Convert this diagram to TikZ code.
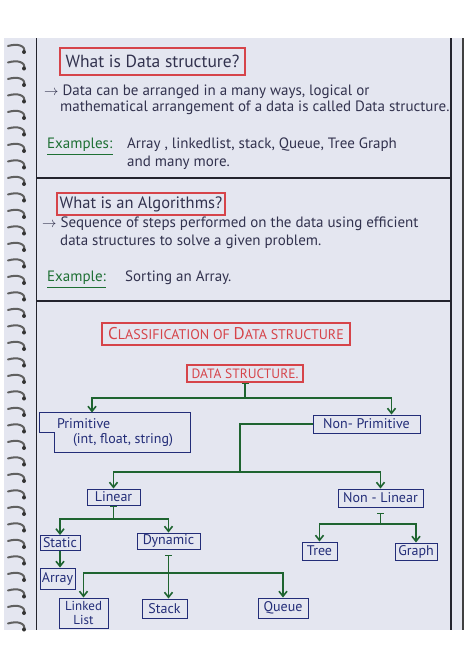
\documentclass[tikz,border=0pt]{standalone}
\usepackage{fontspec}
\setmainfont{PT Sans}
\usetikzlibrary{arrows.meta}
\definecolor{paper}{RGB}{228,230,240}
\definecolor{ink}{RGB}{50,50,78}
\definecolor{qred}{RGB}{214,68,74}
\definecolor{nblue}{RGB}{35,45,120}
\definecolor{lgreen}{RGB}{30,100,48}
\definecolor{egreen}{RGB}{30,112,52}
\definecolor{rule}{RGB}{35,35,45}
\begin{document}
\begin{tikzpicture}[x=1pt,y=-1pt,
  tx/.style={anchor=west,inner sep=0pt,text=ink,font=\fontsize{15}{17}\selectfont},
  ex/.style={tx,text=egreen},
  qb/.style={draw=qred,line width=1.1pt,text=ink,inner sep=0pt,font=\fontsize{17.5}{19}\selectfont},
  hd/.style={draw=qred,line width=1.1pt,text=qred,inner sep=0pt,font=\fontsize{14}{15}\selectfont},
  nd/.style={draw=nblue,line width=1pt,text=nblue,inner sep=0pt,align=center,font=\fontsize{14}{15}\selectfont},
  ln/.style={draw=lgreen,line width=1.6pt},
  ar/.style={ln,-{Straight Barb[length=5pt,width=8pt]}},
  tee/.style={ln,{Bar[width=7pt]}-},
  tar/.style={ln,{Bar[width=7pt]}-{Straight Barb[length=5pt,width=8pt]}}]
  \useasboundingbox (0,0) rectangle (474,670);
  \fill[white] (0,0) rectangle (474,670);
  \fill[paper] (4,38) rectangle (463,630);
  \draw[rule,line width=0.8pt] (36,38) -- (36,630);
  \draw[rule,line width=2pt] (451,38) -- (451,630);
  \draw[black!75,line width=1.2pt] (463,38) -- (463,630);
  \draw[rule,line width=1.6pt] (36,178) -- (451,178);
  \draw[rule,line width=1.6pt] (36,301) -- (451,301);
  \foreach \yy in {46,62.5,...,626}{
    \draw[gray!75!black,line width=2pt,line cap=round] (8,\yy) .. controls (18,\yy-3) and (26,\yy) .. (24,\yy+6);
    \fill[black!80] (24,\yy+6) circle (2pt);
  }

  \node[qb,minimum width=185pt,minimum height=27pt] (q1) at (152.5,61.5) {What is Data structure?};
  \node[tx] (t1) at (44,92) {$\rightarrow$ Data can be arranged in a many ways, logical or};
  \node[tx] (t2) at (60,108) {mathematical arrangement of a data is called Data structure.};
  \node[ex] (e1) at (47,145) {Examples:};
  \node[tx] (t3) at (127,145) {Array , linkedlist, stack, Queue, Tree Graph};
  \node[tx] (t4) at (127,163) {and many more.};
  \draw[egreen,line width=1pt] ([yshift=-3pt]e1.south west) -- ([yshift=-3pt]e1.south east);

  \node[qb,font=\fontsize{16.5}{18}\selectfont,minimum width=168pt,minimum height=22pt] (q2) at (141,204) {What is an Algorithms?};
  \node[tx] (t5) at (42,224) {$\rightarrow$ Sequence of steps performed on the data using efficient};
  \node[tx] (t6) at (60,242) {data structures to solve a given problem.};
  \node[ex] (e2) at (47,278) {Example:};
  \node[tx] (t7) at (125,278) {Sorting an Array.};
  \draw[egreen,line width=1pt] ([yshift=-3pt]e2.south west) -- ([yshift=-3pt]e2.south east);

  \node[hd,minimum width=248pt,minimum height=22pt] (cl) at (226,334) {{\fontsize{17}{17}\selectfont C}LASSIFICATION OF {\fontsize{17}{17}\selectfont D}ATA STRUCTURE};
  \node[hd,font=\fontsize{13.5}{15}\selectfont,minimum width=116pt,minimum height=17pt] (ds) at (245,373.5) {DATA STRUCTURE.};
  \node[nd,draw=none,align=left,minimum width=150pt,minimum height=39pt] (prim) at (115,432.5) {Primitive\\\hspace*{16pt}(int, float, string)};
  \draw[nblue,line width=1pt] (prim.north west) -- (prim.north east) -- (prim.south east) -- ([xshift=15pt]prim.south west) |- (prim.west) -- cycle;
  \node[nd,minimum width=107pt,minimum height=18pt] (nonp) at (366.5,424) {Non- Primitive};
  \node[nd,minimum width=53pt,minimum height=16pt] (lin) at (113.5,497) {Linear};
  \node[nd,minimum width=85pt,minimum height=18pt] (nonl) at (380.5,498) {Non - Linear};
  \node[nd,minimum width=40pt,minimum height=15pt] (stat) at (60,543) {Static};
  \node[nd,minimum width=63pt,minimum height=16pt] (dyn) at (168.5,541) {Dynamic};
  \node[nd,minimum width=35pt,minimum height=21pt] (arr) at (57.5,578.5) {Array};
  \node[nd,font=\fontsize{13}{13.5}\selectfont,minimum width=49pt,minimum height=30pt] (ll) at (83.5,613) {Linked\\List};
  \node[nd,minimum width=45pt,minimum height=19pt] (stk) at (164.5,608.5) {Stack};
  \node[nd,minimum width=50pt,minimum height=20pt] (que) at (283,608) {Queue};
  \node[nd,minimum width=35pt,minimum height=18pt] (tree) at (319.5,551) {Tree};
  \node[nd,minimum width=42pt,minimum height=17pt] (grp) at (416,551.5) {Graph};

  \coordinate (b1) at (ds.south |- 0,398);
  \draw[tee] (ds.south) -- (b1);
  \draw[ar] (b1) -| ([xshift=-23pt]prim.north);
  \draw[ar] (b1) -| ([xshift=25pt]nonp.north);
  \coordinate (b2) at (240,472);
  \draw[ln] (nonp.west) -| (b2);
  \draw[ar] (b2) -| (lin.north);
  \draw[ar] (b2) -| (nonl.north);
  \coordinate (b3) at (lin.south |- 0,519);
  \draw[tee] (lin.south) -- (b3);
  \draw[ar] (b3) -| (stat.north);
  \draw[ar] (b3) -| (dyn.north);
  \draw[ar] (stat.south) -- (stat.south |- arr.north);
  \coordinate (b4) at (dyn.south |- 0,573);
  \draw[tar] ([yshift=-5pt]dyn.south) -- (dyn.south |- stk.north);
  \draw[ar] (b4) -| (ll.north);
  \draw[ar] (b4) -| (que.north);
  \coordinate (b5) at (nonl.south |- 0,524);
  \draw[tee] ([yshift=-5pt]nonl.south) -- (b5);
  \draw[ar] (b5) -| (tree.north);
  \draw[ar] (b5) -| (grp.north);
\end{tikzpicture}
\end{document}
